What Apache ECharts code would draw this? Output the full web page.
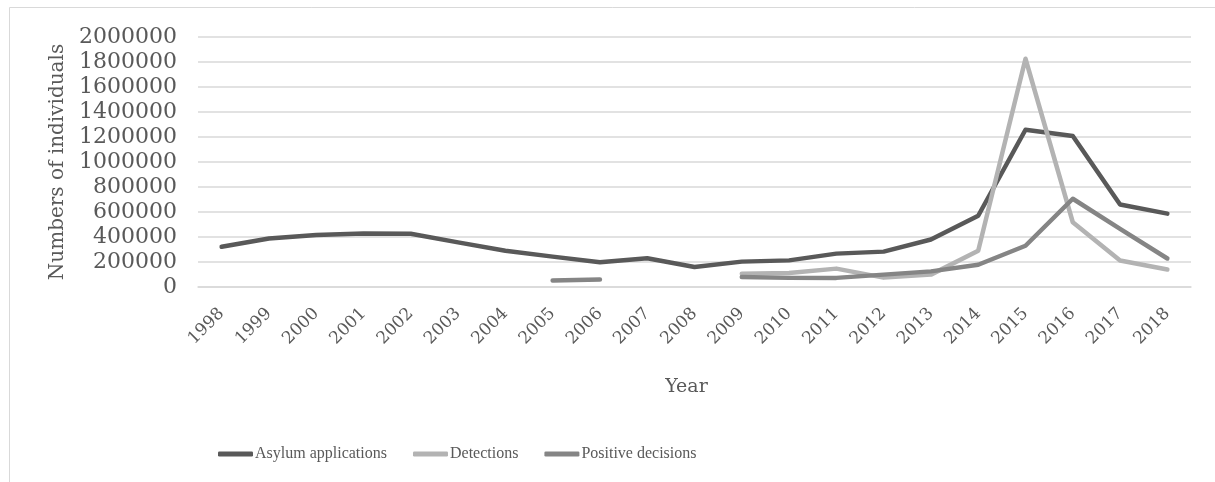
<!DOCTYPE html>
<html>
<head>
<meta charset="utf-8">
<script src="https://cdn.jsdelivr.net/npm/echarts@6/dist/echarts.min.js"></script>
<style>
html,body{margin:0;padding:0;background:#fff;}
#chart{width:1215px;height:482px;}
</style>
</head>
<body>
<div id="chart"></div>
<script>
const years = ['1998','1999','2000','2001','2002','2003','2004','2005','2006','2007','2008','2009','2010','2011','2012','2013','2014','2015','2016','2017','2018'];
const asylumApplications = [322000, 388000, 416000, 428000, 426000, 357000, 290000, 243000, 198000, 230000, 160000, 203000, 213000, 267000, 283000, 380000, 570000, 1258000, 1208000, 660000, 587000];
const detections = [null, null, null, null, null, null, null, null, null, null, null, 107000, 112000, 147000, 75000, 99000, 290000, 1826000, 518000, 212000, 140000];
const positiveDecisions = [null, null, null, null, null, null, null, 52000, 60000, null, null, 80000, 73000, 73000, 99000, 125000, 178000, 330000, 706000, 465000, 228000];
const seriesNames = ['Asylum applications', 'Detections', 'Positive decisions'];
const yTicks = {min: 0, max: 2000000, interval: 200000};

const txt = '#595959';
const colors = ['#595959', '#b3b3b3', '#858585'];
const chart = echarts.init(document.getElementById('chart'));
const mk = (name, data, i) => ({
  name: name, type: 'line', data: data, symbol: 'none', connectNulls: false,
  lineStyle: {width: 4.5, color: colors[i], cap: 'round', join: 'round'},
  itemStyle: {color: colors[i]}
});
chart.setOption({
  animation: false,
  backgroundColor: '#fff',
  graphic: [{
    type: 'rect', shape: {x: 9.5, y: 7.5, width: 1400, height: 600},
    style: {fill: 'none', stroke: '#d9d9d9', lineWidth: 1}, silent: true, z: -1
  }],
  grid: {left: 198, right: 24, top: 37, bottom: 195, containLabel: false},
  legend: {
    left: 218, top: 446, padding: 0, itemGap: 26, itemWidth: 35, itemHeight: 5, icon: 'roundRect',
    data: seriesNames,
    textStyle: {fontFamily: 'Liberation Serif', fontSize: 16, color: txt, padding: [0,0,0,-3]}
  },
  xAxis: {
    type: 'category', data: years, boundaryGap: true,
    name: 'Year', nameLocation: 'middle', nameGap: 91,
    nameTextStyle: {fontFamily: 'DejaVu Serif', fontSize: 19, color: txt, padding: [0, 16, 0, 0]},
    axisLine: {show: true, lineStyle: {color: '#d9d9d9', width: 1.5}},
    axisTick: {show: false},
    axisLabel: {rotate: 45, margin: 24, fontFamily: 'DejaVu Serif', fontSize: 17, color: txt}
  },
  yAxis: {
    type: 'value', min: yTicks.min, max: yTicks.max, interval: yTicks.interval,
    name: 'Numbers of individuals', nameLocation: 'middle', nameGap: 130,
    nameTextStyle: {fontFamily: 'DejaVu Serif', fontSize: 20, color: txt},
    axisLine: {show: false}, axisTick: {show: false},
    axisLabel: {margin: 21, fontFamily: 'DejaVu Serif', fontSize: 22, color: txt,
      formatter: v => String(v)},
    splitLine: {lineStyle: {color: '#d9d9d9', width: 1.5}}
  },
  series: [
    mk(seriesNames[0], asylumApplications, 0),
    mk(seriesNames[1], detections, 1),
    mk(seriesNames[2], positiveDecisions, 2)
  ]
});
</script>
</body>
</html>
